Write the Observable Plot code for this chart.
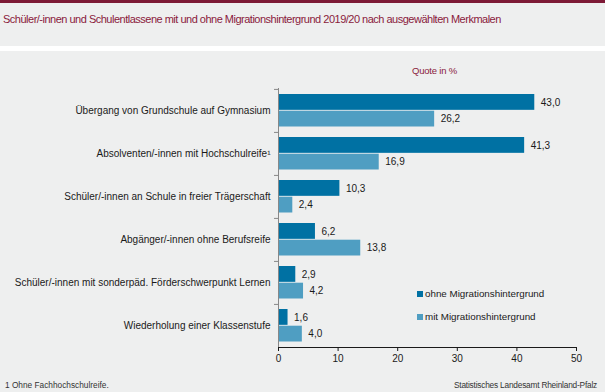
<!DOCTYPE html>
<html>
<head>
<meta charset="utf-8">
<script src="https://cdn.jsdelivr.net/npm/d3@7"></script>
<script src="https://cdn.jsdelivr.net/npm/@observablehq/plot@0.6"></script>
<style>
  html, body { margin: 0; padding: 0; }
  body { width: 605px; height: 392px; overflow: hidden; font-family: "Liberation Sans", Arial, sans-serif; }
  #wrap { position: relative; width: 605px; height: 392px; background: #eeefef; }
  #topbar { position: absolute; left: 0; top: 0; width: 605px; height: 3px; background: #7d1a36; }
  #gap { position: absolute; left: 0; top: 46px; width: 605px; height: 5px; background: #ffffff; }
  #title { position: absolute; left: 3px; top: 13px; font-size: 11px; color: #8a1a3c; white-space: nowrap; letter-spacing: -0.5px; }
  #quote { position: absolute; left: 412px; top: 65px; font-size: 9.5px; color: #8a1a3c; white-space: nowrap; letter-spacing: -0.2px; }
  #chart { position: absolute; left: 0; top: 51px; }
  .leg { position: absolute; left: 417px; font-size: 9.8px; color: #1a1a1a; white-space: nowrap; }
  .leg span { display: inline-block; width: 6px; height: 6px; margin-right: 2px; vertical-align: 0px; }
  #foot { position: absolute; left: 5px; top: 380px; font-size: 8.3px; color: #333; white-space: nowrap; }
  #source { position: absolute; right: 8px; top: 380px; font-size: 8.3px; color: #333; white-space: nowrap; letter-spacing: -0.2px; }
</style>
</head>
<body>
<div id="wrap">
  <div id="topbar"></div>
  <div id="title">Schüler/-innen und Schulentlassene mit und ohne Migrationshintergrund 2019/20 nach ausgewählten Merkmalen</div>
  <div id="gap"></div>
  <div id="quote">Quote  in %</div>
  <div id="chart"></div>
  <div class="leg" id="leg1" style="top:288px"><span style="background:#0071a3"></span>ohne Migrationshintergrund</div>
  <div class="leg" id="leg2" style="top:311px"><span style="background:#4f9ec2"></span>mit Migrationshintergrund</div>
  <div id="foot">1 Ohne  Fachhochschulreife.</div>
  <div id="source">Statistisches Landesamt  Rheinland-Pfalz</div>
</div>
<script>
const categories = [
  "Übergang von Grundschule auf Gymnasium",
  "Absolventen/-innen mit Hochschulreife¹",
  "Schüler/-innen an Schule in freier Trägerschaft",
  "Abgänger/-innen ohne Berufsreife",
  "Schüler/-innen mit sonderpäd. Förderschwerpunkt Lernen",
  "Wiederholung einer Klassenstufe"
];
const ohneValues = [43.0, 41.3, 10.3, 6.2, 2.9, 1.6];
const mitValues  = [26.2, 16.9, 2.4, 13.8, 4.2, 4.0];
const seriesNames = ["ohne Migrationshintergrund", "mit Migrationshintergrund"];
const xTicks = [0, 10, 20, 30, 40, 50];

const colOhne = "#0071a3";
const colMit = "#4f9ec2";

const rows = categories.map((c, i) => ({cat: c, ohne: ohneValues[i], mit: mitValues[i]}));
const fmt = v => v.toFixed(1).replace(".", ",");

const height = 341, marginTop = 37, marginBottom = 45;
const step = (height - marginTop - marginBottom) / categories.length;

const chart = Plot.plot({
  width: 605,
  height,
  marginTop,
  marginBottom,
  marginLeft: 278,
  marginRight: 29,
  style: {background: "transparent", fontFamily: "Liberation Sans, Arial, sans-serif", fontSize: "10px", color: "#1a1a1a"},
  x: {domain: [0, 50], ticks: xTicks, tickSize: 4, tickPadding: 3, label: null, line: true},
  y: {domain: categories, padding: 0, label: null, axis: null},
  marks: [
    Plot.barX(rows, {y: "cat", x: "ohne", fill: colOhne, insetTop: 5, insetBottom: step - 21}),
    Plot.barX(rows, {y: "cat", x: "mit", fill: colMit, insetTop: 21.7, insetBottom: 5.5}),
    Plot.text(rows, {y: "cat", x: "ohne", text: d => fmt(d.ohne), textAnchor: "start", dx: 6, dy: -8.4, fill: "#1a1a1a", fontSize: 10}),
    Plot.text(rows, {y: "cat", x: "mit", text: d => fmt(d.mit), textAnchor: "start", dx: 6, dy: 8, fill: "#1a1a1a", fontSize: 10}),
    Plot.axisY({tickSize: 0, tickPadding: 8, fontSize: 10, label: null, fill: "#1a1a1a"}),
    Plot.axisY({tickSize: 4, tickFormat: () => "", dy: -step / 2, label: null, stroke: "#888"}),
    Plot.ruleX([0], {stroke: "#888"})
  ]
});
document.getElementById("chart").appendChild(chart);
</script>
</body>
</html>
